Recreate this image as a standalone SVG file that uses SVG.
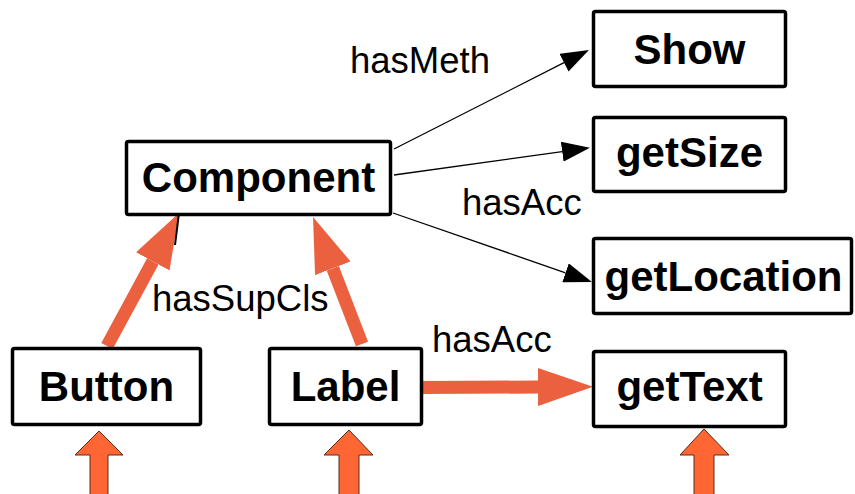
<svg xmlns="http://www.w3.org/2000/svg" width="855" height="494" viewBox="0 0 855 494">
<style>
.box{fill:#fff;stroke:#000;stroke-width:3.5}
.nt{font-family:"Liberation Sans",Arial,sans-serif;font-weight:bold;font-size:42px;text-anchor:middle;fill:#000}
.lb{font-family:"Liberation Sans",Arial,sans-serif;font-size:36.5px;fill:#000}
.thin{stroke:#000;stroke-width:1.3;fill:none;marker-end:url(#bh)}
.thick{stroke:#EB6140;stroke-width:13;fill:none;marker-end:url(#oh)}
.blk{fill:#FF6633;stroke:#5a2a1a;stroke-width:1}
</style>
<defs>
<marker id="bh" markerUnits="userSpaceOnUse" viewBox="0 -10 28 20" markerWidth="28" markerHeight="20" refX="0" refY="0" orient="auto">
<path d="M0,-10 L28,0 L0,10 z" fill="#000"/>
</marker>
<marker id="oh" markerUnits="userSpaceOnUse" viewBox="0 -19 55 38" markerWidth="55" markerHeight="38" refX="0" refY="0" orient="auto">
<path d="M0,-19 L55,0 L0,19 z" fill="#EB6140"/>
</marker>
</defs>
<g id="connectors">
<line class="thin" x1="394" y1="149" x2="564" y2="62.7"/>
<line class="thin" x1="394" y1="175" x2="562.2" y2="151.7"/>
<line class="thin" x1="393" y1="213" x2="565.5" y2="272.8"/>
<line class="thick" x1="107" y1="346" x2="152.8" y2="261.4"/>
<line class="thick" x1="362" y1="344" x2="332.8" y2="268.3"/>
<line class="thick" x1="422" y1="387.5" x2="538" y2="387"/>
<line x1="179" y1="213" x2="175" y2="245" stroke="#000" stroke-width="2"/>
<text class="lb" x="350" y="73">hasMeth</text>
<text class="lb" x="462" y="215">hasAcc</text>
<text class="lb" x="152" y="311">hasSupCls</text>
<text class="lb" x="432" y="352">hasAcc</text>
</g>
<g id="Component"><rect class="box" x="126.5" y="141.5" width="264" height="73" rx="2"/><text class="nt" x="258.5" y="192">Component</text></g>
<g id="Show"><rect class="box" x="593.5" y="11.5" width="192" height="75" rx="2"/><text class="nt" x="689.5" y="64">Show</text></g>
<g id="getSize"><rect class="box" x="593.5" y="117.5" width="192" height="74" rx="2"/><text class="nt" x="689.5" y="167">getSize</text></g>
<g id="getLocation"><rect class="box" x="593.5" y="238.5" width="258" height="75" rx="2"/><text class="nt" x="723.5" y="291">getLocation</text></g>
<g id="getText"><rect class="box" x="593.5" y="351.5" width="192" height="75" rx="2"/><text class="nt" x="689.5" y="401">getText</text></g>
<g id="Button"><rect class="box" x="12.5" y="348.5" width="188" height="76" rx="2"/><text class="nt" x="106.5" y="401">Button</text></g>
<g id="Label"><rect class="box" x="269.5" y="348.5" width="152" height="76" rx="2"/><text class="nt" x="345.5" y="401">Label</text></g>
<g id="inputs">
<polygon class="blk" points="99,431 123,455 108,455 108,495 90,495 90,455 75,455"/>
<polygon class="blk" points="349,430 373,455 359,455 359,495 339,495 339,455 324,455"/>
<polygon class="blk" points="704,429 729,455 714,455 714,495 694,495 694,455 680,455"/>
</g>
</svg>
